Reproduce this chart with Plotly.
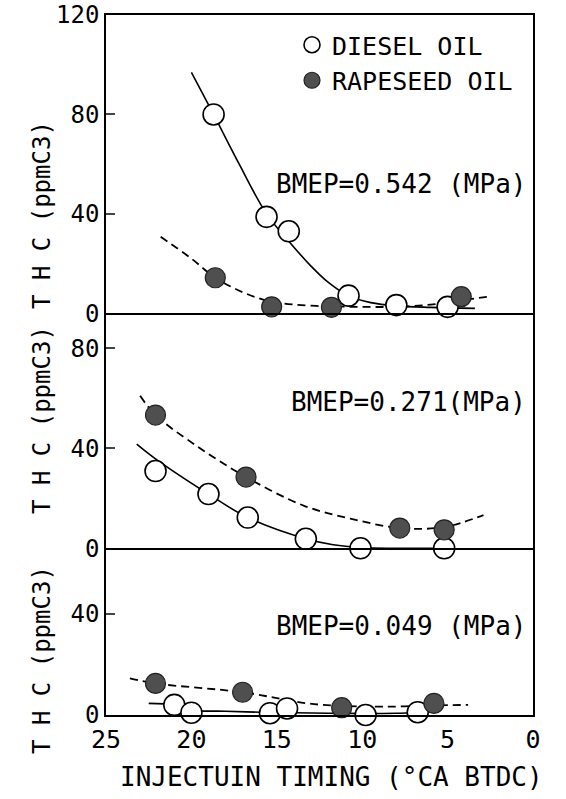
import plotly.graph_objects as go

# ---------------- data ----------------
x_ticks = [25, 20, 15, 10, 5, 0]

# BMEP = 0.542 MPa (top panel)
diesel_x_542 = [18.7, 15.6, 14.3, 10.8, 8.0, 5.0]
diesel_y_542 = [80, 38.8, 33, 7.1, 3.3, 2.6]
rape_x_542 = [18.6, 15.3, 11.8, 4.2]
rape_y_542 = [14.3, 2.6, 2.4, 6.7]
diesel_fit_x_542 = [20.0, 18.7, 17.2, 15.6, 14.3, 13.0, 12.0, 10.8, 9.5, 8.0, 6.0, 3.4]
diesel_fit_y_542 = [96.9, 80, 60, 40, 29, 19, 12.5, 7.0, 4.3, 3.0, 2.4, 2.0]
rape_fit_x_542 = [21.8, 20.0, 18.6, 17.0, 15.5, 14.0, 12.0, 10.0, 8.0, 6.0, 4.2, 2.6]
rape_fit_y_542 = [30.8, 22, 14.3, 8.5, 5.0, 3.5, 2.8, 2.6, 2.6, 3.5, 5.2, 6.7]

# BMEP = 0.271 MPa (middle panel)
diesel_x_271 = [22.1, 19.0, 16.7, 13.3, 10.1, 5.2]
diesel_y_271 = [30.9, 21.7, 12.3, 3.8, 0, 0]
rape_x_271 = [22.1, 16.8, 7.8, 5.2]
rape_y_271 = [53.3, 28.5, 8.1, 7.4]
diesel_fit_x_271 = [23.2, 22.1, 19.0, 16.7, 13.3, 11.7, 10.1, 7.0, 5.2]
diesel_fit_y_271 = [41.7, 35.8, 21.7, 12.3, 3.8, 1.4, 0.3, 0, 0]
rape_fit_x_271 = [23.0, 22.1, 19.7, 16.8, 13.4, 10.7, 7.8, 5.2, 2.9]
rape_fit_y_271 = [61, 53.3, 41, 28.5, 17, 11.9, 8.1, 8.5, 13.3]

# BMEP = 0.049 MPa (bottom panel)
diesel_x_049 = [21.0, 20.0, 15.4, 14.4, 9.8, 6.75]
diesel_y_049 = [4.0, 0.9, 0.7, 2.6, 0, 1.1]
rape_x_049 = [22.1, 17.0, 11.2, 5.8]
rape_y_049 = [12.5, 9.0, 2.9, 4.6]
diesel_fit_x_049 = [22.5, 21.0, 20.0, 18.0, 16.0, 14.0, 12.0, 10.0, 8.0, 6.75]
diesel_fit_y_049 = [4.6, 4.0, 1.9, 1.5, 1.1, 0.9, 0.7, 0.6, 0.7, 1.0]
rape_fit_x_049 = [23.6, 22.1, 17.0, 13.2, 11.2, 8.6, 5.8, 3.8]
rape_fit_y_049 = [14.5, 12.5, 9.0, 4.6, 3.6, 3.3, 3.8, 4.0]

panel_labels = ["BMEP=0.542 (MPa)", "BMEP=0.271(MPa)", "BMEP=0.049 (MPa)"]
y_title = "T H C (ppmC3)"
x_title = "INJECTUIN TIMING (°CA BTDC)"

# ---------------- figure ----------------
FONT = "DejaVu Sans Mono"
W, H = 566, 799
# plot frame in page pixels: left 106, right 533, top 15, bottom 715
ML, MT = 106, 15
MR = W - 533
MB = H - 715
PH = H - MT - MB
PW = W - ML - MR

def py(px):  # pixel y -> paper fraction
    return (H - MB - px) / PH

def pxx(px):  # pixel x -> paper fraction
    return (px - ML) / PW

fig = go.Figure()

panels = [
    ("y", diesel_fit_x_542, diesel_fit_y_542, rape_fit_x_542, rape_fit_y_542,
     diesel_x_542, diesel_y_542, rape_x_542, rape_y_542),
    ("y2", diesel_fit_x_271, diesel_fit_y_271, rape_fit_x_271, rape_fit_y_271,
     diesel_x_271, diesel_y_271, rape_x_271, rape_y_271),
    ("y3", diesel_fit_x_049, diesel_fit_y_049, rape_fit_x_049, rape_fit_y_049,
     diesel_x_049, diesel_y_049, rape_x_049, rape_y_049),
]
xref = {"y": "x", "y2": "x2", "y3": "x3"}

for i, (yr, dfx, dfy, rfx, rfy, dx, dy, rx, ry) in enumerate(panels):
    fig.add_trace(go.Scatter(x=dfx, y=dfy, mode="lines", xaxis=xref[yr], yaxis=yr,
                             line=dict(color="black", width=1.6, shape="spline", smoothing=1.0),
                             showlegend=False, hoverinfo="skip"))
    fig.add_trace(go.Scatter(x=rfx, y=rfy, mode="lines", xaxis=xref[yr], yaxis=yr,
                             line=dict(color="black", width=1.8, shape="spline", smoothing=1.0,
                                       dash="8px,5px"),
                             showlegend=False, hoverinfo="skip"))
    fig.add_trace(go.Scatter(x=dx, y=dy, mode="markers", xaxis=xref[yr], yaxis=yr,
                             name="DIESEL OIL", showlegend=(i == 0), cliponaxis=False,
                             marker=dict(symbol="circle", size=21, color="white",
                                         line=dict(color="black", width=1.6))))
    fig.add_trace(go.Scatter(x=rx, y=ry, mode="markers", xaxis=xref[yr], yaxis=yr,
                             name="RAPESEED OIL", showlegend=(i == 0), cliponaxis=False,
                             marker=dict(symbol="circle", size=20, color="#4f4f4f",
                                         line=dict(color="#222222", width=1.2))))

# domains in pixels: top 15-313.3, middle 313.3-548.3, bottom 548.3-715
d_top = [py(313.3), 1.0]
d_mid = [py(548.3), py(313.3)]
d_bot = [0.0, py(548.3)]

line_common = dict(showline=True, linecolor="black", linewidth=1.5, showgrid=False,
                   zeroline=False, automargin=False, ticklabeloverflow="allow")
xcommon = dict(range=[25, 0], tickvals=x_ticks, ticks="", **line_common)
ycommon = dict(ticks="inside", ticklen=9, tickwidth=1.5, ticklabelstandoff=0,
               mirror=True, **line_common)

fig.update_layout(
    width=W, height=H,
    margin=dict(l=ML, r=MR, t=MT, b=MB, autoexpand=False),
    paper_bgcolor="white", plot_bgcolor="white",
    font=dict(family=FONT, color="black", size=24),
    xaxis=dict(anchor="y", showticklabels=False, mirror=True, **xcommon),
    xaxis2=dict(anchor="y2", matches="x", showticklabels=False, mirror=False, **xcommon),
    xaxis3=dict(anchor="y3", matches="x", showticklabels=True, ticklabelstandoff=1,
                mirror=False, tickfont=dict(size=25), **xcommon),
    yaxis=dict(domain=d_top, range=[0, 120], tickvals=[0, 40, 80, 120], **ycommon),
    yaxis2=dict(domain=d_mid, range=[0, 94], tickvals=[0, 40, 80], **ycommon),
    yaxis3=dict(domain=d_bot, range=[0, 66], tickvals=[0, 40], **ycommon),
    legend=dict(x=pxx(292), y=py(22), xanchor="left", yanchor="top",
                bgcolor="rgba(0,0,0,0)", font=dict(size=25), itemsizing="trace",
                tracegroupgap=0),
    showlegend=True,
)

annos = []
for lab, ypx in zip(panel_labels, [184, 402, 626]):
    annos.append(dict(text=lab, xref="paper", yref="paper", x=pxx(528), y=py(ypx),
                      xanchor="right", yanchor="middle", showarrow=False,
                      font=dict(size=26, family=FONT)))
for ypx in [215, 420, 660]:
    annos.append(dict(text=y_title, xref="paper", yref="paper", x=pxx(42), y=py(ypx),
                      xanchor="center", yanchor="middle", textangle=-90, showarrow=False,
                      font=dict(size=24, family=FONT)))
annos.append(dict(text=x_title, xref="paper", yref="paper", x=pxx(331), y=py(777),
                  xanchor="center", yanchor="middle", showarrow=False,
                  font=dict(size=26, family=FONT)))
fig.update_layout(annotations=annos)

fig.write_html("out.html",
               config={"displayModeBar": False},
               post_script="document.body.style.margin='0px';"
                           "document.body.style.overflow='hidden';")
